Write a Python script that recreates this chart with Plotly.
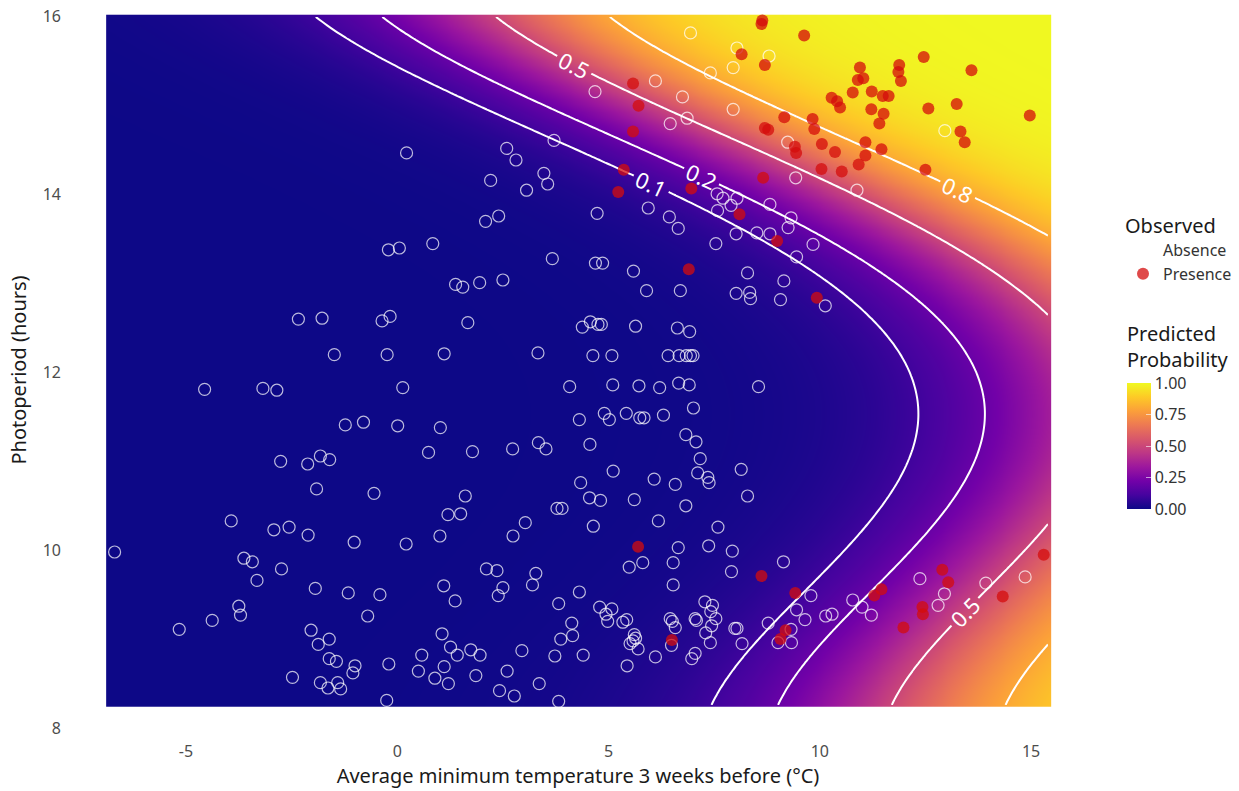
import numpy as np
import plotly.graph_objects as go

absence_temp = [
    0.22, -0.21, 0.05, -2.34, -1.78, -0.36, -0.17, -1.49, -0.24,
    -4.56, -3.18, -2.85, 0.13, -1.23, -0.80, 0.01, 0.74, -2.76, -2.12, -1.82, -1.60,
    -1.91, -0.55, -3.93, -2.92, -2.56, -2.11, -1.02, 0.21, -6.69, -3.63, -3.43, -2.74,
    -3.32, -1.94, -1.16, -0.41, -3.75, -3.71, -4.38, -0.70, -5.16, -2.04, -1.87, -1.61,
    -1.61, -1.44, -1.00, -1.05, -0.20, 0.58, 0.50, -2.48, -1.82, -1.64, -1.41, -1.34, -0.25,
    6.94, 8.04, 7.41, 7.95, 6.11, 4.68, 6.75, 6.46, 6.86, 7.95, 3.71, 2.59, 2.81, 3.47,
    3.56, 2.21, 3.06, 7.57, 7.71, 7.90, 8.04, 7.58, 5.94, 6.44, 6.65, 4.73, 8.02, 7.54,
    2.09, 2.40, 0.84, 3.67, 4.69, 4.86, 5.59, 5.90, 6.70, 1.38, 1.55, 1.95, 2.50, 1.67,
    4.38, 4.57, 4.75, 4.83, 5.64, 6.63, 6.92, 1.11, 3.33, 4.63, 5.08, 6.41, 6.67, 6.84,
    6.94, 7.00,
    8.80, 9.24, 12.96, 9.43, 10.88, 8.82, 9.32, 9.25, 8.51, 8.82, 9.84, 9.45, 8.29, 9.15,
    8.02, 8.34, 8.36, 9.07, 10.13,
    4.08, 5.10, 5.72, 6.21, 6.66, 6.91, 7.01, 4.31, 4.90, 5.02, 5.42, 5.74, 5.84, 6.30,
    1.02, 1.78, 2.73, 3.34, 3.52, 4.56, 6.83, 7.07, 7.17, 5.11, 7.11, 7.35, 7.38, 6.08,
    6.58, 4.34, 1.61, 1.20, 1.50, 4.55, 4.81, 5.61, 3.78, 3.90, 6.83, 3.03, 4.64, 6.18,
    7.59, 1.01, 2.74, 6.65, 7.37, 7.93, 5.81, 5.49, 6.53, 7.91, 6.53, 2.11, 2.36, 3.28,
    3.20, 2.50, 2.39, 1.10, 1.37, 4.31, 3.82, 4.79, 5.08, 4.94, 4.98, 5.34, 5.43, 4.13,
    4.15, 3.87, 1.06, 1.26, 1.42, 1.74, 1.96, 1.11, 0.89, 1.21, 1.86, 2.60, 2.95, 2.42,
    2.77, 3.36, 3.82, 3.73, 4.40, 5.44, 5.61, 5.64, 5.58, 5.51, 5.70, 6.11, 6.46, 6.51,
    6.58, 6.49, 7.05, 7.08, 7.28, 7.46, 7.42, 7.54, 7.44, 7.30, 7.41, 7.05, 6.97, 7.99, 8.04,
    8.55, 8.14, 8.29, 9.14, 9.79, 9.45, 9.65, 8.78, 9.32, 9.01, 9.33, 8.16, 10.14, 10.29,
    10.78, 11.00, 11.22, 12.37, 12.95, 12.80, 13.93, 14.86,
]
absence_photo = [
    14.47, 13.38, 13.40, 12.60, 12.61, 12.58, 12.63, 12.20, 12.20,
    11.81, 11.82, 11.80, 11.83, 11.41, 11.44, 11.40, 11.10, 11.00, 10.97, 11.06, 11.02,
    10.69, 10.64, 10.33, 10.23, 10.26, 10.17, 10.09, 10.07, 9.98, 9.91, 9.87, 9.79,
    9.66, 9.57, 9.52, 9.50, 9.37, 9.27, 9.21, 9.26, 9.11, 9.10, 8.94, 9.00,
    8.78, 8.75, 8.70, 8.62, 8.72, 8.82, 8.64, 8.57, 8.51, 8.45, 8.51, 8.44, 8.31,
    15.82, 15.65, 15.37, 15.43, 15.28, 15.16, 15.10, 14.80, 14.86, 14.96, 14.61, 14.52, 14.39, 14.24,
    14.12, 14.16, 14.05, 14.01, 13.96, 13.88, 13.96, 13.82, 13.85, 13.75, 13.62, 13.79, 13.56, 13.45,
    13.70, 13.76, 13.45, 13.28, 13.23, 13.23, 13.14, 12.92, 12.92, 12.99, 12.96, 13.01, 13.04, 12.56,
    12.51, 12.57, 12.54, 12.54, 12.52, 12.50, 12.46, 12.21, 12.22, 12.19, 12.19, 12.19, 12.19, 12.19,
    12.19, 12.19,
    15.56, 14.59, 14.72, 14.19, 14.05, 13.89, 13.74, 13.63, 13.57, 13.56, 13.44, 13.30, 13.12, 13.03,
    12.89, 12.90, 12.83, 12.82, 12.75,
    11.84, 11.86, 11.85, 11.83, 11.88, 11.86, 11.60, 11.47, 11.54, 11.47, 11.54, 11.49, 11.49, 11.52,
    11.38, 11.11, 11.14, 11.21, 11.14, 11.19, 11.30, 11.22, 11.03, 10.89, 10.87, 10.82, 10.76, 10.80,
    10.74, 10.76, 10.61, 10.40, 10.41, 10.59, 10.56, 10.57, 10.47, 10.47, 10.50, 10.31, 10.27, 10.33,
    10.26, 10.16, 10.16, 10.03, 10.05, 9.99, 9.86, 9.81, 9.86, 9.76, 9.61, 9.79, 9.77, 9.74,
    9.61, 9.58, 9.49, 9.60, 9.43, 9.53, 9.40, 9.36, 9.34, 9.28, 9.20, 9.19, 9.22, 9.18,
    9.04, 9.00, 9.06, 8.91, 8.82, 8.88, 8.82, 8.69, 8.56, 8.50, 8.59, 8.64, 8.87, 8.42,
    8.36, 8.50, 8.30, 8.81, 8.82, 8.70, 9.05, 9.01, 8.98, 8.95, 8.89, 8.80, 9.23, 9.20,
    9.13, 8.93, 9.23, 9.21, 9.42, 9.38, 9.31, 9.23, 9.15, 9.07, 8.96, 8.84, 8.78, 9.12, 9.12,
    11.84, 10.91, 10.61, 9.87, 9.49, 9.33, 9.22, 9.18, 9.11, 8.96, 8.96, 8.95, 9.26, 9.28,
    9.44, 9.36, 9.27, 9.68, 9.51, 9.38, 9.63, 9.70,
]
presence_temp = [
    5.58, 5.71, 5.58, 5.36, 5.23, 6.96, 6.90,
    8.64, 8.62, 9.63, 8.15, 8.70, 10.95, 10.90, 11.03, 11.88, 11.86, 11.92, 12.46, 13.59,
    10.78, 11.23, 10.28, 10.41, 10.48, 11.49, 11.63, 11.22, 11.51, 11.41, 12.57, 13.24,
    14.97, 9.16, 9.83, 9.87, 8.70, 8.78, 13.33, 13.43, 10.05, 11.08, 11.46, 9.41, 9.44,
    10.36, 11.08, 10.92, 10.04, 10.52, 12.50, 8.66, 8.10, 8.99, 9.93,
    5.70, 6.50,
    8.62, 9.42, 9.19, 9.07, 11.29, 11.46, 12.90, 13.04, 12.43, 12.44, 11.98, 14.33, 15.30,
]
presence_photo = [
    15.25, 15.00, 14.71, 14.28, 14.03, 14.07, 13.16,
    15.96, 15.92, 15.79, 15.58, 15.46, 15.43, 15.29, 15.31, 15.46, 15.38, 15.28, 15.55, 15.40,
    15.15, 15.16, 15.09, 15.05, 14.98, 15.11, 15.11, 14.96, 14.91, 14.80, 14.97, 15.02,
    14.89, 14.87, 14.85, 14.74, 14.75, 14.73, 14.71, 14.59, 14.57, 14.59, 14.51, 14.54, 14.47,
    14.48, 14.44, 14.34, 14.29, 14.26, 14.28, 14.19, 13.78, 13.48, 12.84,
    10.04, 8.99,
    9.71, 9.52, 9.10, 9.00, 9.49, 9.56, 9.78, 9.64, 9.36, 9.28, 9.13, 9.48, 9.95,
]

# ---------------- fitted model ----------------
# temperature of the 10 % contour at several photoperiods
contour10_photo = [16.0, 15.36, 14.57, 13.67, 13.46, 12.79, 12.48, 12.29, 12.12,
                   11.58, 10.43, 10.26, 9.38, 8.58, 8.26]
contour10_temp = [-2.0, 0.52, 3.84, 7.90, 8.58, 10.95, 11.49, 11.82, 12.05,
                  12.37, 11.26, 10.95, 9.45, 7.87, 7.39]
temp_slope = 0.515          # logit change per degree C
grid_temp_range = [-6.82, 15.4]
grid_photo_range = [8.26, 16.0]
contour_levels_a = [0.1]
contour_levels_b = [0.2, 0.5, 0.8]
cbar_ticks = [0, 0.25, 0.5, 0.75, 1.0]
cbar_ticktext = ["0.00", "0.25", "0.50", "0.75", "1.00"]
x_ticks = [-5, 0, 5, 10, 15]
x_ticktext = ["-5", "0", "5", "10", "15"]
y_ticks = [8, 10, 12, 14, 16]

coef = np.polyfit(contour10_photo, contour10_temp, 5)
gx = np.linspace(grid_temp_range[0], grid_temp_range[1], 160)
gy = np.linspace(grid_photo_range[0], grid_photo_range[1], 160)
X, Y = np.meshgrid(gx, gy)
logit = np.log(0.1 / 0.9) + temp_slope * (X - np.polyval(coef, Y))
prob = 1.0 / (1.0 + np.exp(-logit))

FONT = "Noto Sans"
W, H = 1239, 791
ML, MR, MT, MB = 62, 145, 0, 51
PW, PH = W - ML - MR, H - MT - MB


def px_to_paper_x(px):
    return (px - ML) / PW


def px_to_paper_y(py):
    return 1 - (py - MT) / PH


fig = go.Figure()

fig.add_trace(go.Heatmap(
    x=gx, y=gy, z=prob, zmin=0, zmax=1, colorscale="Plasma", zsmooth="best",
    hoverinfo="skip", showlegend=False,
    colorbar=dict(
        tickvals=cbar_ticks, ticktext=cbar_ticktext,
        ticks="inside", tickcolor="rgba(255,255,255,0.6)", ticklen=5,
        tickfont=dict(size=16, color="#333333", family=FONT),
        outlinewidth=0, thickness=24, lenmode="pixels", len=126,
        xpad=0, ypad=0,
        x=px_to_paper_x(1127), xanchor="left",
        y=px_to_paper_y(509), yanchor="bottom",
    ),
))


def contour_trace(levels):
    step = (levels[-1] - levels[0]) / (len(levels) - 1) if len(levels) > 1 else 1
    return go.Contour(
        x=gx, y=gy, z=prob, showscale=False, hoverinfo="skip", showlegend=False,
        contours=dict(coloring="none", start=levels[0], end=levels[-1], size=step,
                      showlabels=True,
                      labelfont=dict(size=22, color="white", family=FONT)),
        line=dict(color="white", width=2),
    )


fig.add_trace(contour_trace(contour_levels_a))
fig.add_trace(contour_trace(contour_levels_b))

fig.add_trace(go.Scatter(
    x=absence_temp, y=absence_photo, mode="markers", name="Absence",
    marker=dict(symbol="circle-open", size=12, color="rgba(255,255,255,0.72)",
                line=dict(width=1.2, color="rgba(255,255,255,0.72)")),
))
fig.add_trace(go.Scatter(
    x=presence_temp, y=presence_photo, mode="markers", name="Presence",
    marker=dict(symbol="circle", size=12, color="rgba(212,12,12,0.75)",
                line=dict(width=0)),
))

fig.add_annotation(
    text="Predicted<br>Probability", xref="paper", yref="paper",
    x=px_to_paper_x(1125), xanchor="left", y=px_to_paper_y(375), yanchor="bottom",
    showarrow=False, align="left",
    font=dict(size=20, color="#1a1a1a", family=FONT),
)

fig.update_layout(
    width=W, height=H,
    margin=dict(l=ML, r=MR, t=MT, b=MB, autoexpand=False),
    paper_bgcolor="white", plot_bgcolor="white",
    font=dict(family=FONT),
    legend=dict(title=dict(text="Observed", font=dict(size=20, color="#1a1a1a")),
                font=dict(size=16, color="#333333"),
                itemwidth=30, tracegroupgap=0,
                x=px_to_paper_x(1123), xanchor="left",
                y=px_to_paper_y(207), yanchor="top",
                bgcolor="rgba(0,0,0,0)"),
    xaxis=dict(range=[-7.935, 16.49], showgrid=False, zeroline=False, automargin=False,
               tickvals=x_ticks, ticktext=x_ticktext, ticks="",
               tickfont=dict(size=16, color="#4d4d4d"),
               title=dict(text="Average minimum temperature 3 weeks before (°C)",
                          font=dict(size=20, color="#1a1a1a"), standoff=4)),
    yaxis=dict(range=[7.865, 16.19], showgrid=False, zeroline=False, automargin=False,
               tickvals=y_ticks, ticks="",
               tickfont=dict(size=16, color="#4d4d4d"),
               title=dict(text="Photoperiod (hours)",
                          font=dict(size=20, color="#1a1a1a"), standoff=10)),
)

fig.write_html("out.html", config={"displayModeBar": False},
               post_script="document.body.style.margin='0px';"
                           "document.body.style.overflow='hidden';")
